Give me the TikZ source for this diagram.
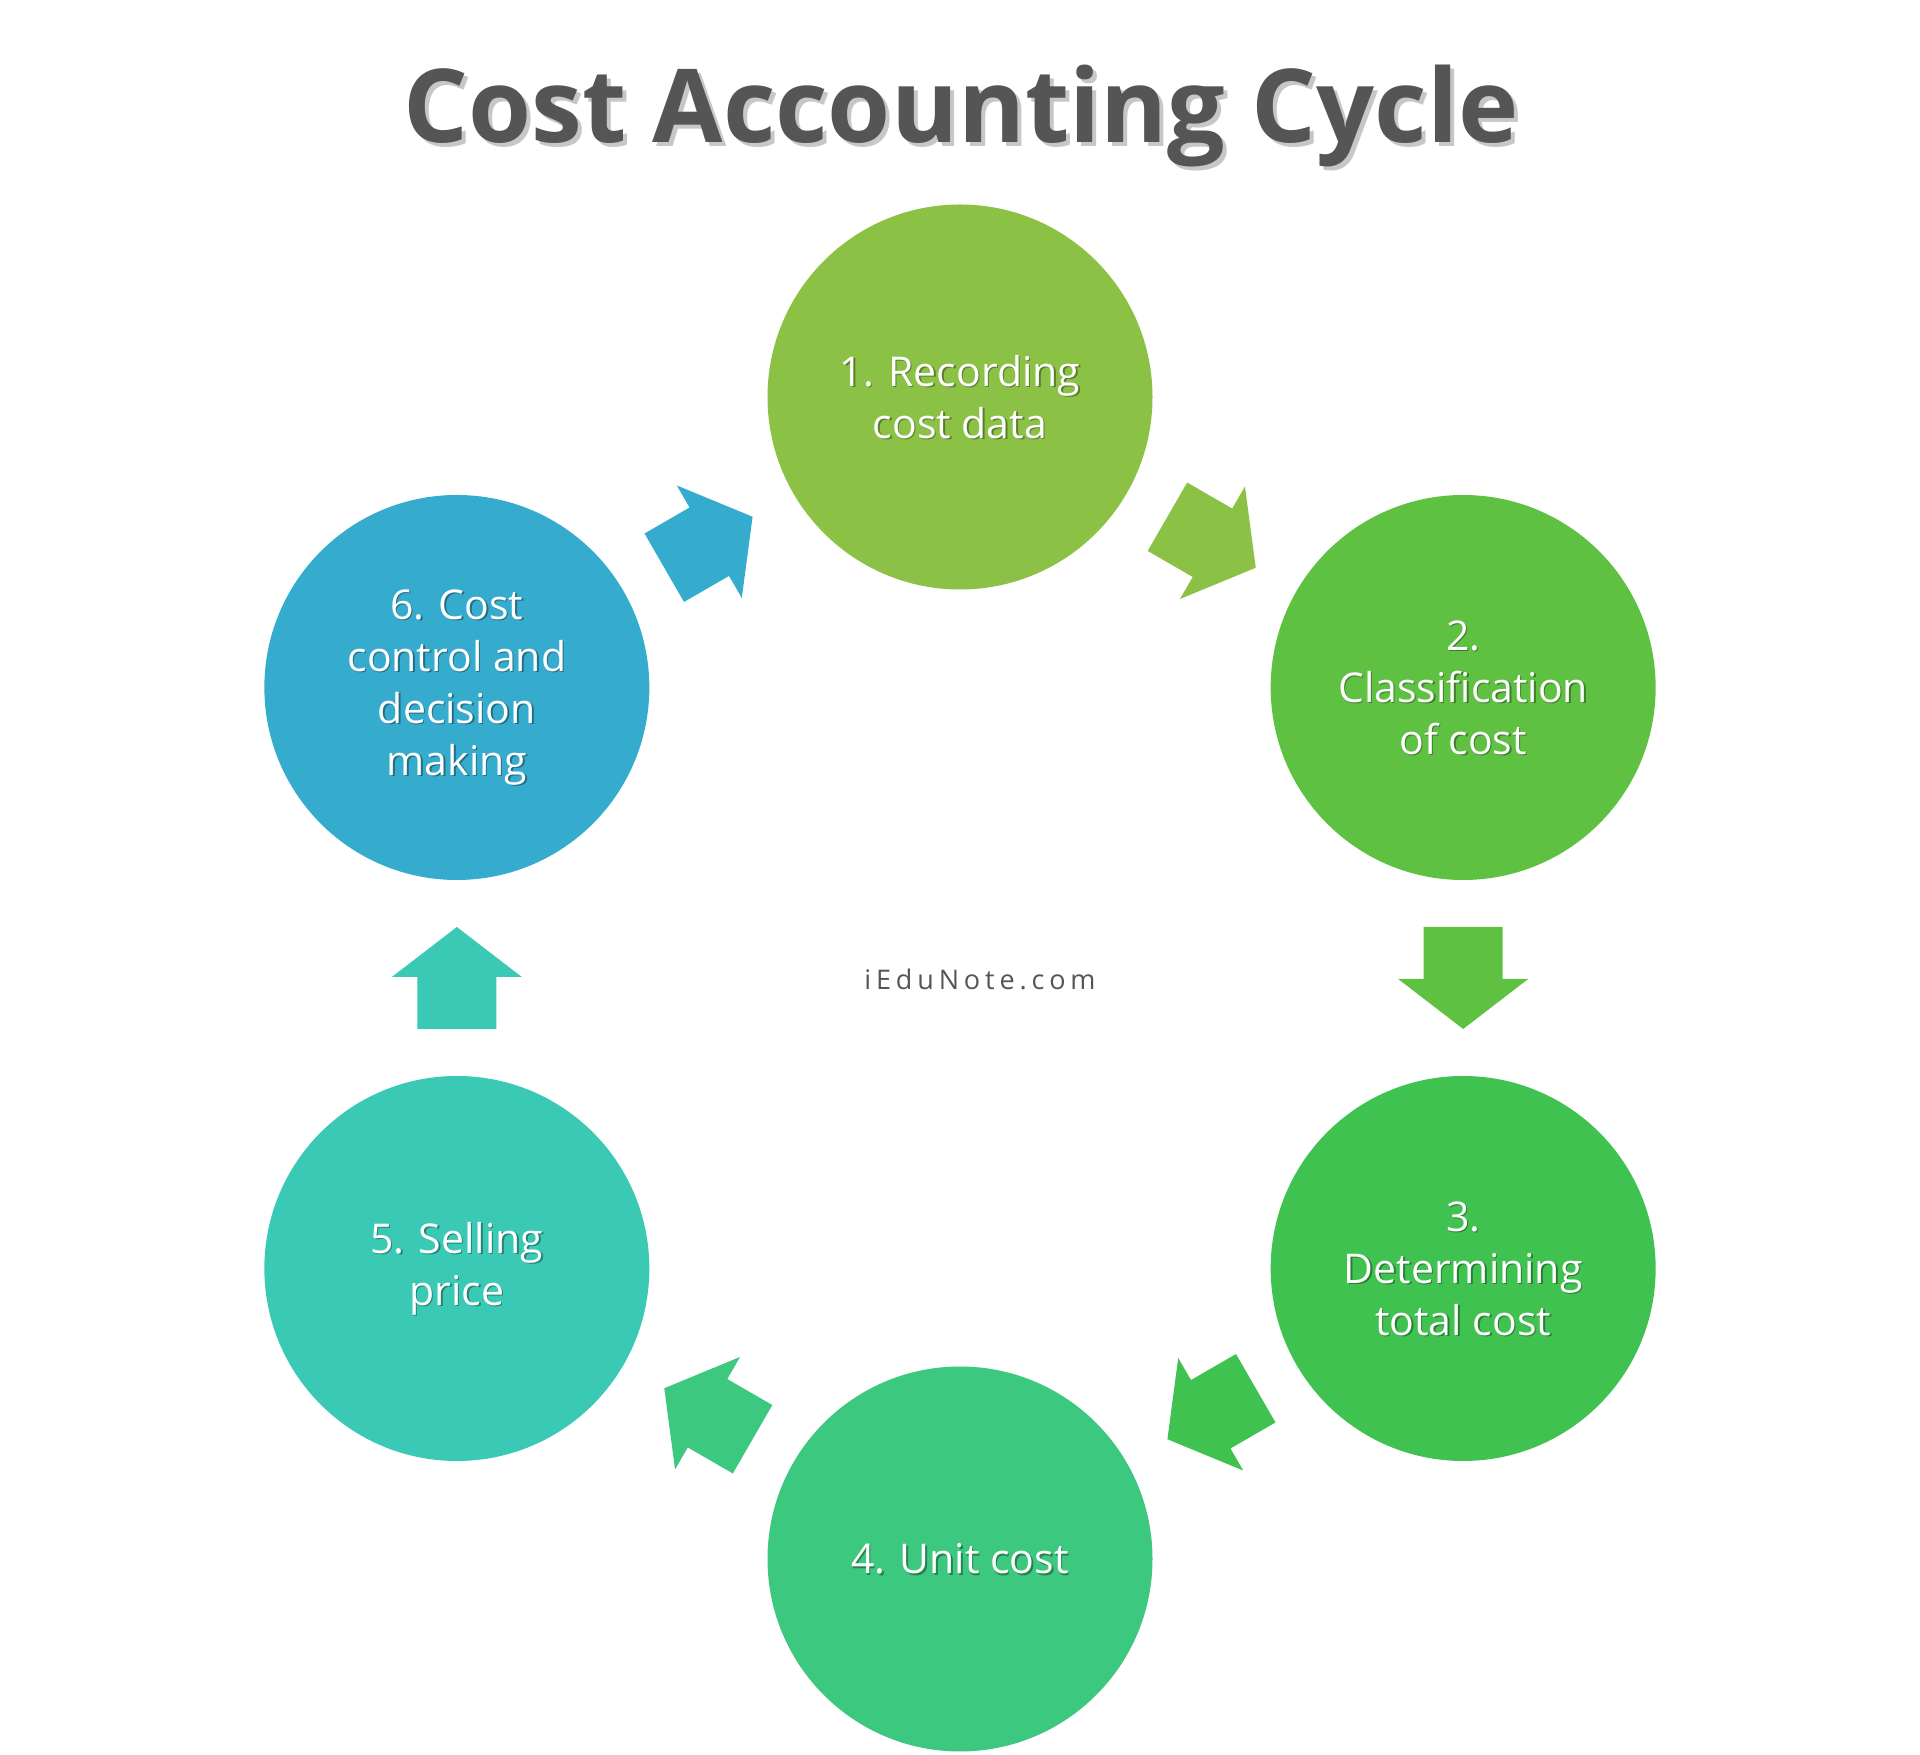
\documentclass[tikz,border=0pt]{standalone}
\usepackage{fontspec}
\setmainfont{Open Sans}
\definecolor{cA}{HTML}{8BC145}
\definecolor{cB}{HTML}{5EC142}
\definecolor{cC}{HTML}{3FC250}
\definecolor{cD}{HTML}{3CC87F}
\definecolor{cE}{HTML}{3AC9B5}
\definecolor{cF}{HTML}{35ACCD}
\definecolor{titlegray}{HTML}{555555}
\begin{document}
\begin{tikzpicture}[x=1pt,y=1pt,
  stage/.style={circle, minimum size=385pt, inner sep=0pt, draw=none},
  stagetext/.style={text=white, align=center, inner sep=0pt,
    font=\fontsize{41}{52}\selectfont},
  stageshadow/.style={stagetext, text=black, opacity=0.35},
  titlestyle/.style={anchor=base, inner sep=0pt, font=\fontsize{102}{114}\selectfont\bfseries},
]
\useasboundingbox (0,0) rectangle (1920,1754);
\coordinate (O) at (960,776);

% title
\node[titlestyle, text=black, opacity=0.22] (titleshadow) at (965,1607) {Cost Accounting Cycle};
\node[titlestyle, text=titlegray] (title) at (961,1611) {Cost Accounting Cycle};

% watermark
\node[anchor=base, text=titlegray, font=\fontsize{27}{30}\selectfont\addfontfeature{LetterSpace=18}]
  (wm) at (980,764) {iEduNote.com};

% stages
\node[stage, fill=cA] (c1) at ([shift={(90:581)}]O) {};
\node[stage, fill=cB] (c2) at ([shift={(30:581)}]O) {};
\node[stage, fill=cC] (c3) at ([shift={(-30:581)}]O) {};
\node[stage, fill=cD] (c4) at ([shift={(-90:581)}]O) {};
\node[stage, fill=cE] (c5) at ([shift={(-150:581)}]O) {};
\node[stage, fill=cF] (c6) at ([shift={(150:581)}]O) {};

% arrows
\foreach \a/\b/\ang/\col in {1/2/-30/cA, 2/3/-90/cB, 3/4/-150/cC, 4/5/150/cD, 5/6/90/cE, 6/1/30/cF}{
  \path (c\a.center) -- (c\b.center) coordinate[midway] (m\a\b);
  \fill[\col, shift={(m\a\b)}, rotate=\ang]
    (-51,-39.5) -- (1,-39.5) -- (1,-65) -- (51,0) -- (1,65) -- (1,39.5) -- (-51,39.5) -- cycle;
}

% texts
\node[stageshadow] (s1) at ([shift={(1.5,-1.5)}]c1) {1. Recording\\cost data};
\node[stagetext] (t1) at (c1) {1. Recording\\cost data};
\node[stageshadow] (s2) at ([shift={(1.5,-1.5)}]c2) {2.\\Classification\\of cost};
\node[stagetext] (t2) at (c2) {2.\\Classification\\of cost};
\node[stageshadow] (s3) at ([shift={(1.5,-1.5)}]c3) {3.\\Determining\\total cost};
\node[stagetext] (t3) at (c3) {3.\\Determining\\total cost};
\node[stageshadow] (s4) at ([shift={(1.5,-1.5)}]c4) {4. Unit cost};
\node[stagetext] (t4) at (c4) {4. Unit cost};
\node[stageshadow] (s5) at ([shift={(1.5,-1.5)}]c5) {5. Selling\\price};
\node[stagetext] (t5) at (c5) {5. Selling\\price};
\node[stageshadow] (s6) at ([shift={(1.5,-1.5)}]c6) {6. Cost\\control and\\decision\\making};
\node[stagetext] (t6) at (c6) {6. Cost\\control and\\decision\\making};
\end{tikzpicture}
\end{document}
